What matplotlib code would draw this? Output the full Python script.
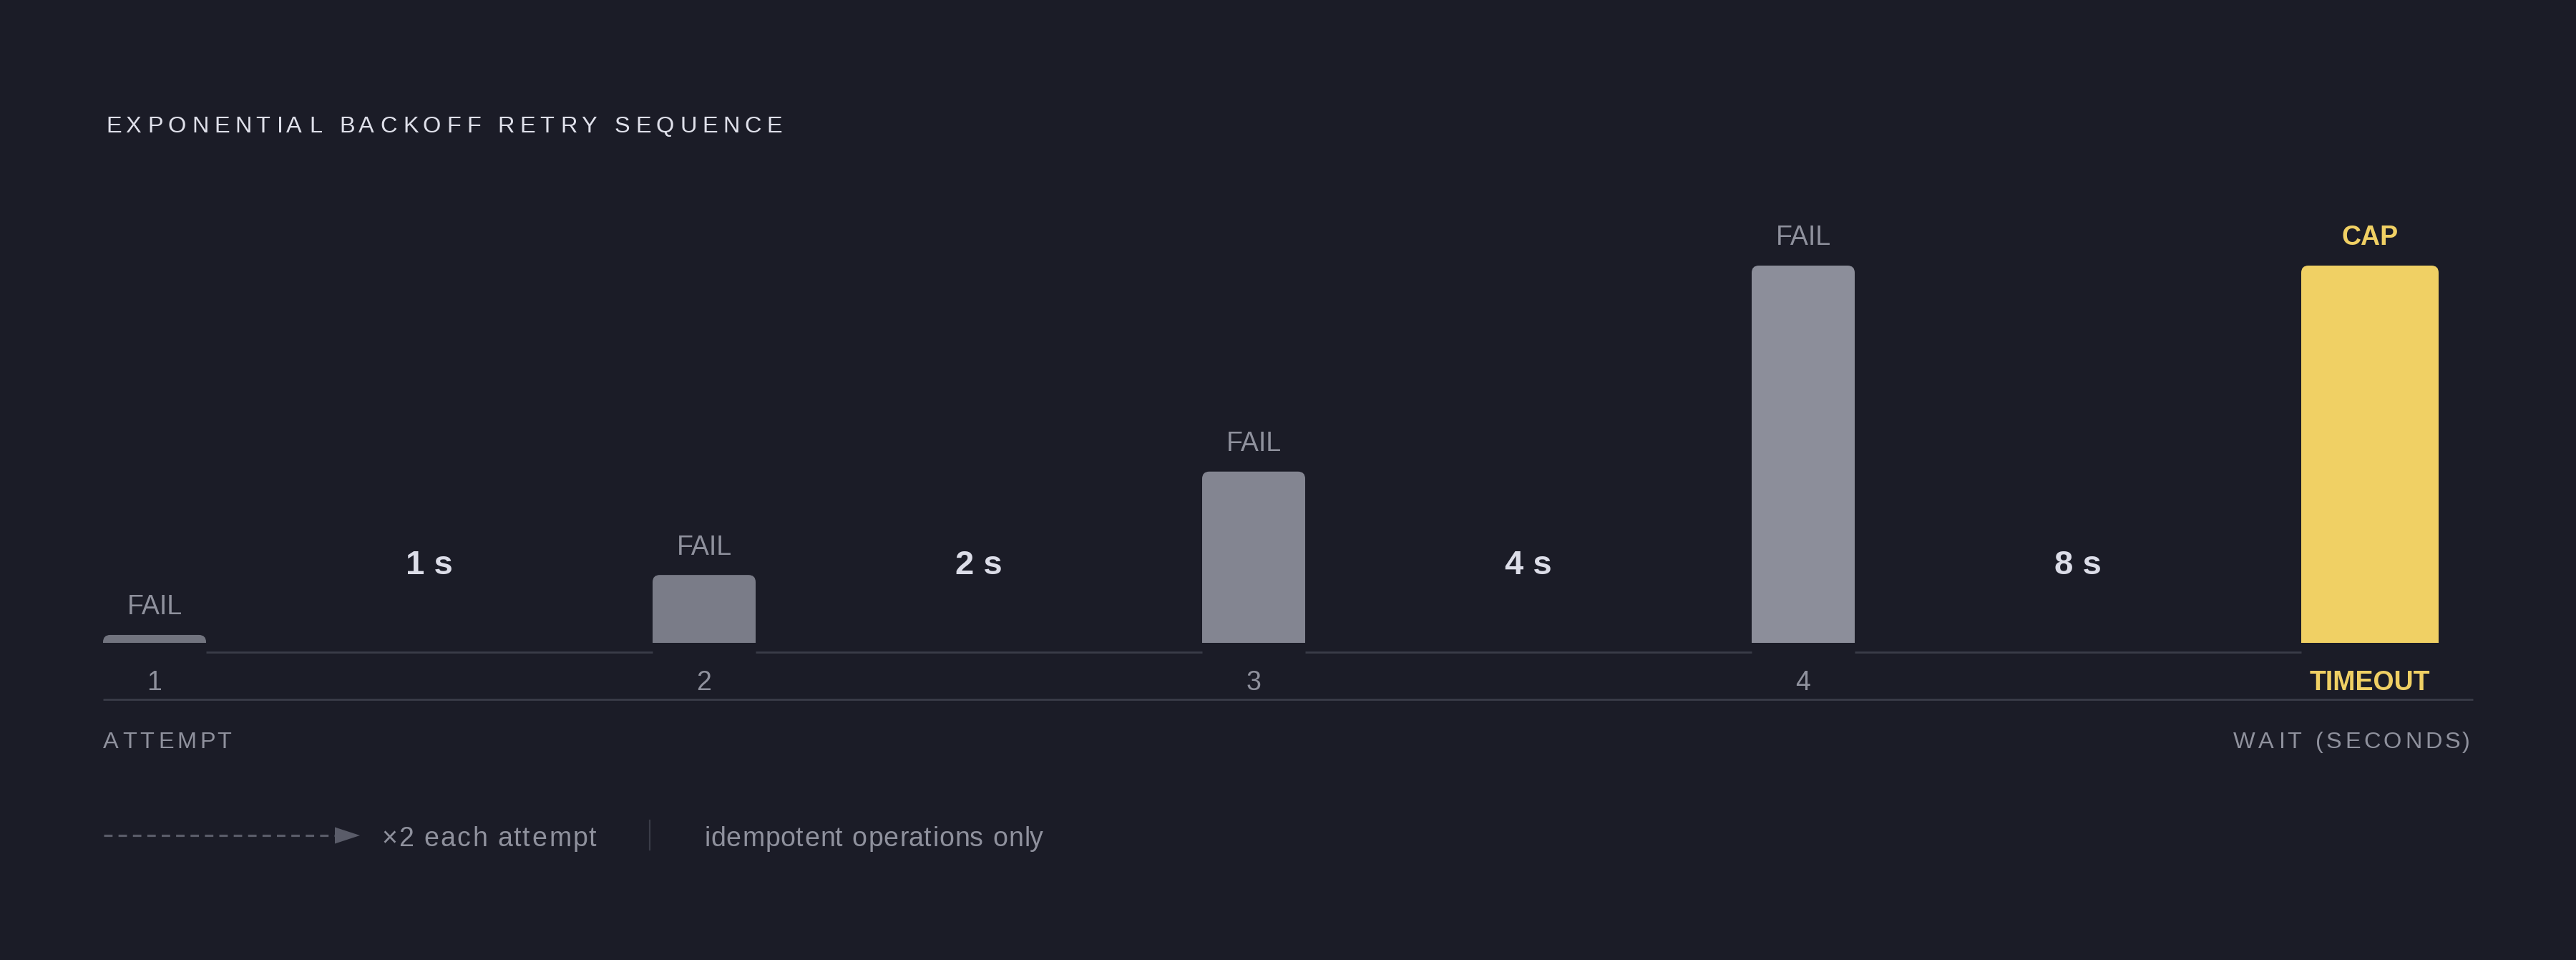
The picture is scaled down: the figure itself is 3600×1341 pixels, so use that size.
import matplotlib
matplotlib.use("Agg")
import matplotlib.pyplot as plt
from matplotlib import font_manager
from matplotlib.ft2font import FT2Font
from matplotlib.patches import FancyBboxPatch, Polygon
from matplotlib.transforms import offset_copy

W, H, DPI = 3600, 1341, 100
FONT = "Liberation Sans"

# ---- data -------------------------------------------------------------
attempts = ["1", "2", "3", "4", "TIMEOUT"]
outcomes = ["FAIL", "FAIL", "FAIL", "FAIL", "CAP"]
bar_height = [0.021, 0.18, 0.454, 1.0, 1.0]   # relative to the capped wait
waits = ["1 s", "2 s", "4 s", "8 s"]

# ---- style ------------------------------------------------------------
BG = "#1b1c27"
TITLE_C = "#dfe0ea"
GRAY = "#8f919d"
WAIT_C = "#dcdde8"
YELLOW = "#f0d064"
RULE = "#3a3c48"
DASH = "#5a5c69"
bar_colors = ["#72747f", "#7a7c88", "#838591", "#8c8e9a", YELLOW]

STEP_PX = 768          # distance between bar left edges
BAR_W = [144 / STEP_PX] * 4 + [192 / STEP_PX]
PLOT_L, PLOT_R = 144, 3456
BASE_Y, TOP_Y = 898, 371
RADIUS = 10


def glyphs(s, size, weight="normal"):
    path = font_manager.findfont(font_manager.FontProperties(family=FONT, weight=weight))
    ft = FT2Font(path)
    ft.set_size(size, DPI)
    out = []
    for c in s:
        g = ft.load_char(ord(c))
        out.append((g.linearHoriAdvance / 65536, g.horiBearingX / 64))
    return out


def spaced(ax, x, y, s, size, spacing, color, weight="normal", ha="left"):
    m = glyphs(s, size, weight)
    total = sum(a for a, _ in m) + spacing * (len(s) - 1)
    if ha == "right":
        x -= total
    elif ha == "center":
        x -= total / 2
    for c, (adv, lsb) in zip(s, m):
        if c != " ":
            ax.text(x + lsb, y, c, fontsize=size, color=color, fontweight=weight,
                    family=FONT, ha="left", va="baseline")
        x += adv + spacing


def main():
    fig = plt.figure(figsize=(W / DPI, H / DPI), dpi=DPI, facecolor=BG)

    # overlay in pixel coordinates for titles / legend
    ov = fig.add_axes([0, 0, 1, 1])
    ov.set_xlim(0, W)
    ov.set_ylim(H, 0)
    ov.axis("off")

    # bar axes
    ax = fig.add_axes([PLOT_L / W, (H - BASE_Y) / H, (PLOT_R - PLOT_L) / W, (BASE_Y - TOP_Y) / H])
    ax.set_facecolor("none")
    ax.set_xlim(0, (PLOT_R - PLOT_L) / STEP_PX)
    ax.set_ylim(0, 1)
    ax.axis("off")
    px_x = STEP_PX
    px_y = BASE_Y - TOP_Y

    x = list(range(len(attempts)))
    rects = ax.bar(x, bar_height, width=BAR_W, align="edge", color=bar_colors)
    for rect in rects:
        ry = RADIUS / px_y
        patch = FancyBboxPatch((rect.get_x(), -ry), rect.get_width(), rect.get_height() + ry,
                               boxstyle=f"round,pad=0,rounding_size={RADIUS / px_x}",
                               mutation_aspect=px_x / px_y,
                               facecolor=rect.get_facecolor(), edgecolor="none")
        ax.add_patch(patch)
        rect.remove()

    # labels above / below bars
    for i, (att, out, h) in enumerate(zip(attempts, outcomes, bar_height)):
        cx = i + BAR_W[i] / 2
        special = out == "CAP"
        ax.annotate(out, (cx, h), xytext=(0, 28.5), textcoords="offset pixels",
                    ha="center", va="baseline", fontsize=27, family=FONT,
                    color=YELLOW if special else GRAY,
                    fontweight="bold" if special else "normal", annotation_clip=False)
        ax.annotate(att, (cx, 0), xytext=(0, -65.5), textcoords="offset pixels",
                    ha="center", va="baseline", fontsize=27, family=FONT,
                    color=YELLOW if special else GRAY,
                    fontweight="bold" if special else "normal", annotation_clip=False)

    # wait connectors and labels
    conn = offset_copy(ax.transData, fig=fig, y=-13, units="dots")
    for i, w in enumerate(waits):
        x0, x1 = i + BAR_W[i], i + 1
        ax.plot([x0, x1], [0, 0], color=RULE, lw=2.0, transform=conn, clip_on=False,
                solid_capstyle="butt")
        ax.annotate(w, ((x0 + x1) / 2, 0), xytext=(0, 96), textcoords="offset pixels",
                    ha="center", va="baseline", fontsize=34, fontweight="bold",
                    family=FONT, color=WAIT_C, annotation_clip=False)

    base = offset_copy(ax.transData, fig=fig, y=-79, units="dots")
    ax.plot([0, ax.get_xlim()[1]], [0, 0], color=RULE, lw=2.0, transform=base,
            clip_on=False, solid_capstyle="butt")

    # title and axis captions
    spaced(ov, 146, 185, "EXPONENTIAL BACKOFF RETRY SEQUENCE", 23.4, 7.4, TITLE_C)
    spaced(ov, 144, 1045, "ATTEMPT", 23.4, 4.5, GRAY)
    spaced(ov, 3452, 1045, "WAIT (SECONDS)", 23.4, 4.5, GRAY, ha="right")

    # legend row
    ov.plot([145, 470], [1167, 1167], color=DASH, lw=2.3, dashes=(3.7, 2.6),
            solid_capstyle="butt", dash_capstyle="butt")
    ov.add_patch(Polygon([(468, 1155.5), (503, 1167), (468, 1178.5)], closed=True,
                         facecolor=DASH, edgecolor="none"))
    spaced(ov, 531, 1182, "\u00d72 each attempt", 27.0, 2.2, GRAY)
    ov.plot([908, 908], [1146, 1187], color=RULE, lw=1.6)
    spaced(ov, 982, 1182, "idempotent operations only", 27.0, 1.0, GRAY)

    fig.savefig("out.png", dpi=DPI, facecolor=BG)


if __name__ == "__main__":
    main()
